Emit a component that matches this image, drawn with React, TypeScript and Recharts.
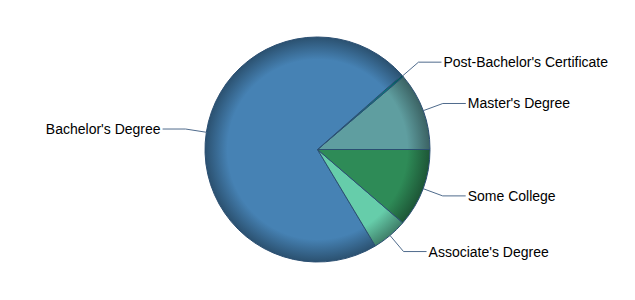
import React from "react";
import { PieChart, Pie, Cell } from "recharts";

// share of respondents by highest education level (percent)
const levels = [
  "Master's Degree",
  "Post-Bachelor's Certificate",
  "Bachelor's Degree",
  "Associate's Degree",
  "Some College",
];
const shares = [11.2, 0.3, 72.1, 5.1, 11.3];
const colors = ["#5F9EA0", "#008080", "#4682B4", "#66CDAA", "#2E8B57"];

const data = levels.map((name, i) => ({ name, value: shares[i] }));

const CX = 317.5;
const CY = 149.5;
const R = 112.5;
const RADIAN = Math.PI / 180;

function shade(hex: string, k: number) {
  const n = parseInt(hex.slice(1), 16);
  const r = Math.round(((n >> 16) & 255) * k);
  const g = Math.round(((n >> 8) & 255) * k);
  const b = Math.round((n & 255) * k);
  return `rgb(${r},${g},${b})`;
}

function renderLabel(props: any) {
  const { cx, cy, midAngle, outerRadius, name } = props;
  const cos = Math.cos(-midAngle * RADIAN);
  const sin = Math.sin(-midAngle * RADIAN);
  const sx = cx + outerRadius * cos;
  const sy = cy + outerRadius * sin;
  const mx = cx + (outerRadius + 21) * cos;
  const my = cy + (outerRadius + 21) * sin;
  const right = cos >= 0;
  const ex = mx + (right ? 23 : -23);
  return (
    <g>
      <path
        d={`M${sx},${sy}L${mx},${my}L${ex},${my}`}
        stroke="#4f6b8c"
        strokeWidth={1}
        fill="none"
      />
      <text
        x={ex + (right ? 2 : -2)}
        y={my}
        dy={5}
        textAnchor={right ? "start" : "end"}
        fill="#000"
        fontSize={14}
        fontFamily="'Liberation Sans', Arial, sans-serif"
      >
        {name}
      </text>
    </g>
  );
}

export default function App() {
  return (
    <div style={{ position: "absolute", left: 0, top: 0, width: 635, height: 300, background: "#fff" }}>
      <PieChart width={635} height={300} margin={{ top: 0, right: 0, bottom: 0, left: 0 }}>
        <defs>
          {colors.map((c, i) => (
            <radialGradient
              key={i}
              id={`edu-grad-${i}`}
              gradientUnits="userSpaceOnUse"
              cx={CX}
              cy={CY}
              r={R}
            >
              <stop offset="0%" stopColor={c} />
              <stop offset="80%" stopColor={c} />
              <stop offset="100%" stopColor={shade(c, 0.62)} />
            </radialGradient>
          ))}
        </defs>
        <Pie
          data={data}
          dataKey="value"
          nameKey="name"
          cx={CX}
          cy={CY}
          outerRadius={R}
          startAngle={0}
          endAngle={360}
          stroke="#2b4f72"
          strokeWidth={1}
          label={renderLabel}
          labelLine={false}
          isAnimationActive={false}
        >
          {data.map((d, i) => (
            <Cell key={d.name} fill={`url(#edu-grad-${i})`} />
          ))}
        </Pie>
      </PieChart>
    </div>
  );
}
